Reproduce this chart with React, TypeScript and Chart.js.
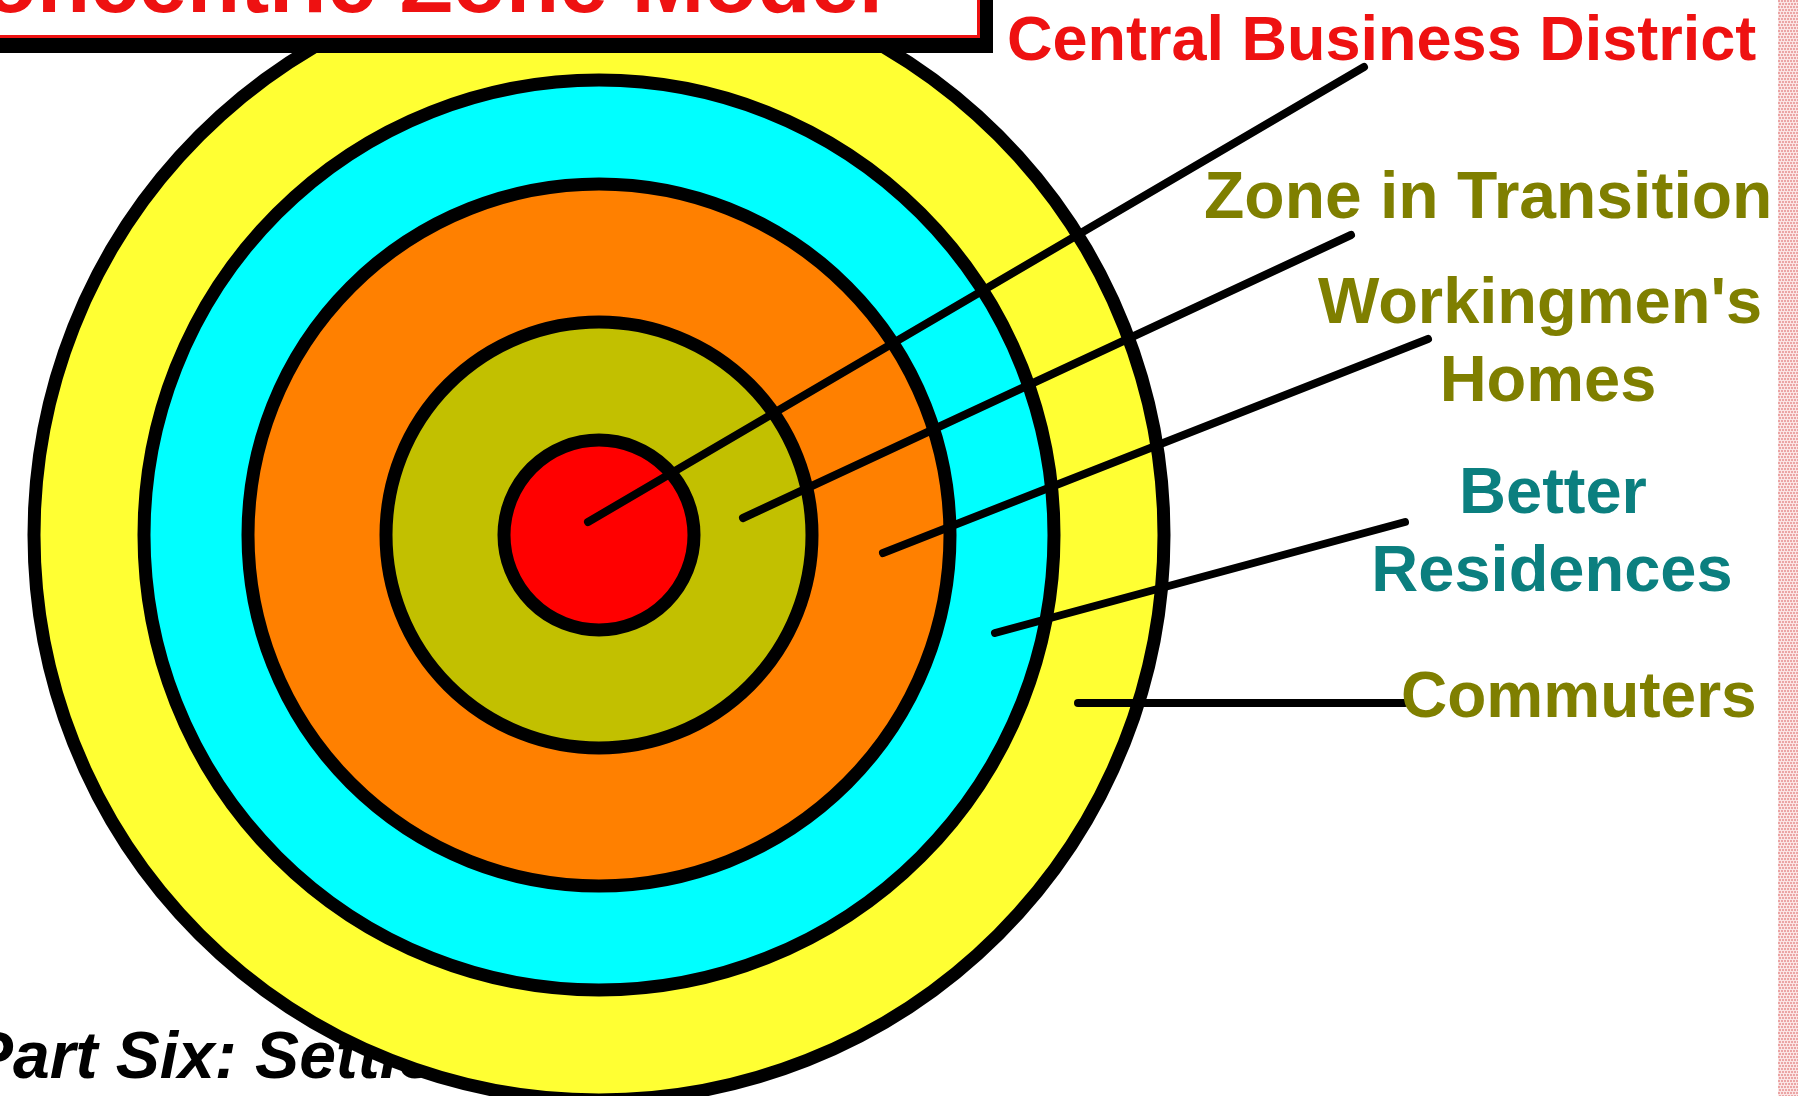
import { useEffect, useRef } from "react";
import { Chart, registerables } from "chart.js";

Chart.register(...registerables);

// ---- data ----
const zoneNames = [
  "Commuters",
  "Better Residences",
  "Workingmen's Homes",
  "Zone in Transition",
  "Central Business District",
];
const zoneValues = [1, 1, 1, 1, 1];
const zoneThickness = [110, 104, 138, 118, 95];
const zoneColors = ["#ffff33", "#00ffff", "#ff8000", "#c2c000", "#ff0000"];

const labelText = [
  ["Commuters"],
  ["Better", "Residences"],
  ["Workingmen's", "Homes"],
  ["Zone in Transition"],
  ["Central Business District"],
];
const labelColors = ["#7f7f00", "#0b7f7f", "#7f7f00", "#7f7f00", "#ee1111"];

const titleText = "Concentric Zone Model";
const footerText = "Part Six: Settlement";

// ---- layout (annotation positions, px) ----
const W = 1798;
const H = 1096;
const CX = 599;
const CY = 535;
const OUTER_R = 565;
const RING_LINE = 13;

const labelLayout = [
  { lines: [{ x: 1401, y: 717 }], align: "left", size: 64 },
  { lines: [{ x: 1553, y: 513 }, { x: 1552, y: 591 }], align: "center", size: 65 },
  { lines: [{ x: 1540, y: 323 }, { x: 1548, y: 401 }], align: "center", size: 65 },
  { lines: [{ x: 1204, y: 218 }], align: "left", size: 66 },
  { lines: [{ x: 1007, y: 60 }], align: "left", size: 63 },
];
// leader line: start offset from the ring centre, end point
const leaderLayout = [
  { dx: 479, dy: 168, ex: 1405, ey: 703 },
  { dx: 396, dy: 98, ex: 1405, ey: 522 },
  { dx: 284, dy: 18, ex: 1428, ey: 339 },
  { dx: 144, dy: -17, ex: 1351, ey: 235 },
  { dx: -11, dy: -13, ex: 1364, ey: 67 },
];

const FONT = "'Liberation Sans', Arial, sans-serif";

const decorPlugin = {
  id: "decor",
  beforeDatasetsDraw(chart: any) {
    const ctx = chart.ctx as CanvasRenderingContext2D;
    ctx.save();
    // right pink dotted strip
    ctx.fillStyle = "#fbe4e4";
    ctx.fillRect(1778, 0, 20, H);
    ctx.fillStyle = "#eba5a5";
    for (let y = 0; y < H; y += 3) {
      for (let x = 1778 + ((y / 3) % 2 ? 1 : 0); x < W; x += 3) {
        ctx.fillRect(x, y, 2, 2);
      }
    }
    // footer text (beneath the rings)
    ctx.fillStyle = "#000";
    ctx.font = `italic bold 66px ${FONT}`;
    ctx.textAlign = "left";
    ctx.textBaseline = "alphabetic";
    ctx.fillText(footerText, -31, 1078);
    ctx.restore();
  },
  afterDatasetsDraw(chart: any) {
    const ctx = chart.ctx as CanvasRenderingContext2D;
    const first = chart.getDatasetMeta(0).data[0];
    const cx = first.x;
    const cy = first.y;
    ctx.save();
    // ring outlines from each ring's own arc geometry
    ctx.strokeStyle = "#000";
    ctx.lineWidth = RING_LINE;
    chart.data.datasets.forEach((_: any, i: number) => {
      const a = chart.getDatasetMeta(i).data[0];
      ctx.beginPath();
      ctx.arc(a.x, a.y, a.outerRadius, 0, Math.PI * 2);
      ctx.stroke();
    });
    // leader lines
    ctx.lineWidth = 8;
    ctx.lineCap = "round";
    leaderLayout.forEach((l) => {
      ctx.beginPath();
      ctx.moveTo(cx + l.dx, cy + l.dy);
      ctx.lineTo(l.ex, l.ey);
      ctx.stroke();
    });
    // labels
    ctx.textBaseline = "alphabetic";
    labelText.forEach((lines, i) => {
      const lay = labelLayout[i];
      ctx.fillStyle = labelColors[i];
      ctx.font = `bold ${lay.size}px ${FONT}`;
      ctx.textAlign = lay.align as CanvasTextAlign;
      lines.forEach((t, j) => {
        ctx.fillText(t, lay.lines[j].x, lay.lines[j].y);
      });
    });
    // title box
    ctx.fillStyle = "#000";
    ctx.fillRect(-20, -20, 1013, 73);
    ctx.fillStyle = "#fff";
    ctx.fillRect(-20, -20, 1000, 58);
    ctx.strokeStyle = "#ee1111";
    ctx.lineWidth = 3;
    ctx.strokeRect(-20, -20, 998.5, 56.5);
    ctx.fillStyle = "#ee1111";
    ctx.font = `bold 87px ${FONT}`;
    ctx.textAlign = "right";
    ctx.fillText(titleText, 883, 12);
    ctx.restore();
  },
};

export default function App() {
  const ref = useRef<HTMLCanvasElement | null>(null);
  useEffect(() => {
    if (!ref.current) return;
    const chart = new Chart(ref.current, {
      type: "doughnut",
      data: {
        labels: ["zone"],
        datasets: zoneNames.map((name, i) => ({
          label: name,
          data: [zoneValues[i]],
          backgroundColor: zoneColors[i],
          borderWidth: 0,
          weight: zoneThickness[i],
          hoverOffset: 0,
        })),
      } as any,
      options: {
        animation: false,
        responsive: false,
        events: [],
        cutout: 0,
        radius: OUTER_R,
        layout: {
          padding: { left: 0, top: 0, right: W - 2 * CX, bottom: H - 2 * CY },
        },
        plugins: {
          legend: { display: false },
          tooltip: { enabled: false },
          title: { display: false },
        },
      } as any,
      plugins: [decorPlugin],
    });
    return () => chart.destroy();
  }, []);
  return (
    <div
      style={{
        position: "fixed",
        left: 0,
        top: 0,
        width: W,
        height: H,
        overflow: "hidden",
        background: "#fff",
      }}
    >
      <canvas ref={ref} width={W} height={H} style={{ display: "block" }} />
    </div>
  );
}
